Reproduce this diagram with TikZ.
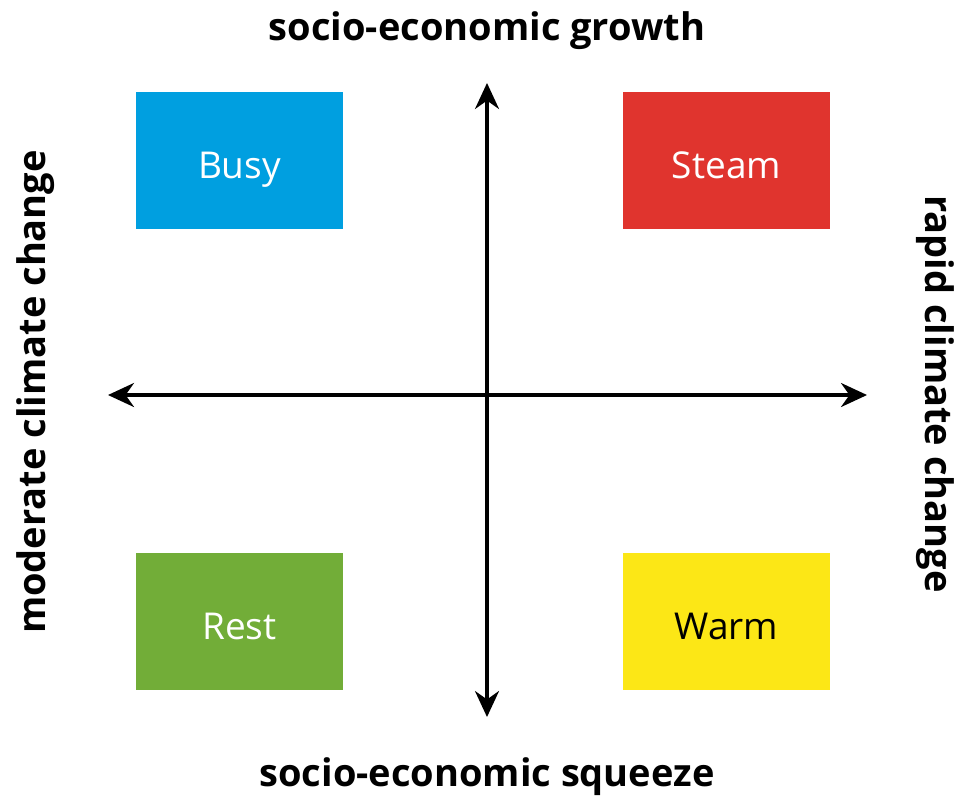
\documentclass[tikz,border=0pt]{standalone}
\usepackage{fontspec}
\setmainfont{Open Sans}
\usetikzlibrary{arrows.meta}
\definecolor{busyblue}{RGB}{0,159,224}
\definecolor{steamred}{RGB}{224,52,46}
\definecolor{restgreen}{RGB}{114,173,56}
\definecolor{warmyellow}{RGB}{252,231,22}
\tikzset{
	quad/.style={minimum width=103.5pt, minimum height=68.5pt, inner sep=0pt, text height=17.5pt, text depth=0pt, font=\fontsize{18.5}{20}\selectfont},
	axislabel/.style={font=\fontsize{19}{21}\selectfont\bfseries},
}

\begin{document}
\begin{tikzpicture}[x=0.5pt,y=-0.5pt, line width=1.7pt, arrows={Stealth[length=13pt,width=12pt]-Stealth[length=13pt,width=12pt]}]
	\useasboundingbox (0,0) rectangle (961,800);
	\node (T) at (487,31) [axislabel] {socio-economic growth};
	\node (S) at (487,777) [axislabel] {socio-economic squeeze};
	\node (M) at (36,392) [axislabel, rotate=90] {moderate climate change};
	\node (R) at (935,394) [axislabel, rotate=-90] {rapid climate change};
	\coordinate (N) at (487,83);
	\coordinate (D) at (487,717);
	\coordinate (W) at (108,395);
	\coordinate (E) at (867,395);
	\draw (N) -- (D);
	\draw (W) -- (E);
	\node (Busy) at (239.5,160.5) [quad, fill=busyblue, text=white] {Busy};
	\node (Steam) at (726.5,160.5) [quad, fill=steamred, text=white] {Steam};
	\node (Rest) at (239.5,621.5) [quad, fill=restgreen, text=white] {Rest};
	\node (Warm) at (726.5,621.5) [quad, fill=warmyellow] {Warm};
\end{tikzpicture}
\end{document}
